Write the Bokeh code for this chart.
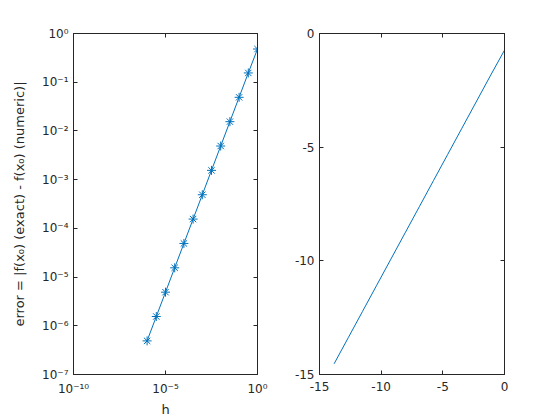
import numpy as np
from bokeh.plotting import figure
from bokeh.layouts import row
from bokeh.models import (Range1d, FixedTicker, CustomJSTickFormatter, LogAxis, LinearAxis)
from bokeh.embed import file_html
from bokeh.resources import INLINE

# data
h = [1.0, 0.316, 0.1, 0.0316, 0.01, 0.00316, 1e-3, 3.16e-4, 1e-4, 3.16e-5, 1e-5, 3.16e-6, 1e-6]
err = [0.48, 0.155, 0.049, 0.0155, 0.0049, 0.00155, 4.9e-4, 1.55e-4, 4.9e-5, 1.55e-5, 4.9e-6, 1.55e-6, 4.9e-7]
left_xticks = [1e-10, 1e-5, 1.0]
left_yticks = [1e-7, 1e-6, 1e-5, 1e-4, 1e-3, 1e-2, 1e-1, 1.0]
right_ticks = [-15, -10, -5, 0]
xlabel = "h"
ylabel = "error = |f(x\u2080) (exact) - f(x\u2080) (numeric)|"

log_h = np.log(np.array(h))
log_err = np.log(np.array(err))

BLUE = "#0072BD"
AX = "#262626"
FONT = "DejaVu Sans"

sup_fmt = CustomJSTickFormatter(code="""
const sup = {'0':'\u2070','1':'\u00b9','2':'\u00b2','3':'\u00b3','4':'\u2074','5':'\u2075','6':'\u2076','7':'\u2077','8':'\u2078','9':'\u2079','-':'\u207b'};
const e = Math.round(Math.log10(tick));
return '10' + String(e).split('').map(c => sup[c]).join('');
""")
plain_fmt = CustomJSTickFormatter(code="return String(Math.round(tick));")
blank_fmt = CustomJSTickFormatter(code="return '';")


def style_axis(ax, show_labels=True):
    ax.axis_line_color = AX
    ax.axis_line_width = 1
    ax.major_tick_line_color = AX
    ax.major_tick_in = 4
    ax.major_tick_out = 0
    ax.minor_tick_in = 0
    ax.minor_tick_out = 0
    ax.major_label_text_font = FONT
    ax.major_label_text_font_size = "12px"
    ax.major_label_text_color = AX
    ax.axis_label_text_font = FONT
    ax.axis_label_text_font_size = "13px"
    ax.axis_label_text_font_style = "normal"
    ax.axis_label_text_color = AX
    if show_labels:
        ax.major_label_standoff = 7
    else:
        ax.major_label_standoff = 0


# ---- left: log-log plot ----
p1 = figure(width=273, height=419, x_axis_type="log", y_axis_type="log",
            x_range=Range1d(1e-10, 1.0), y_range=Range1d(1e-7, 1.0),
            output_backend="svg", toolbar_location=None,
            min_border_left=73, min_border_right=16, min_border_top=33, min_border_bottom=44)
p1.grid.visible = False
p1.outline_line_color = AX
p1.background_fill_color = "white"

p1.xaxis.ticker = FixedTicker(ticks=left_xticks, minor_ticks=[])
p1.yaxis.ticker = FixedTicker(ticks=left_yticks, minor_ticks=[])
p1.xaxis.formatter = sup_fmt
p1.yaxis.formatter = sup_fmt
p1.xaxis.axis_label = xlabel
p1.yaxis.axis_label = ylabel
for ax in p1.xaxis + p1.yaxis:
    style_axis(ax)
p1.yaxis.major_label_standoff = 5
p1.xaxis.axis_label_standoff = 3
p1.yaxis.axis_label_standoff = 12

ra = LogAxis(ticker=FixedTicker(ticks=left_yticks, minor_ticks=[]), formatter=blank_fmt)
style_axis(ra, False)
p1.add_layout(ra, "right")
ta = LogAxis(ticker=FixedTicker(ticks=left_xticks, minor_ticks=[]), formatter=blank_fmt)
style_axis(ta, False)
p1.add_layout(ta, "above")

p1.line(h, err, line_color=BLUE, line_width=1)
p1.scatter(h, err, marker="asterisk", size=9, line_color=BLUE, line_width=1)

# ---- right: ln-ln plot ----
p2 = figure(width=241, height=419, x_range=Range1d(-15, 0), y_range=Range1d(-15, 0),
            output_backend="svg", toolbar_location=None,
            min_border_left=46, min_border_right=10, min_border_top=33, min_border_bottom=44)
p2.grid.visible = False
p2.outline_line_color = AX
p2.xaxis.ticker = FixedTicker(ticks=right_ticks, minor_ticks=[])
p2.yaxis.ticker = FixedTicker(ticks=right_ticks, minor_ticks=[])
p2.xaxis.formatter = plain_fmt
p2.yaxis.formatter = plain_fmt
for ax in p2.xaxis + p2.yaxis:
    style_axis(ax)
p2.yaxis.major_label_standoff = 5

ra2 = LinearAxis(ticker=FixedTicker(ticks=right_ticks, minor_ticks=[]), formatter=blank_fmt)
style_axis(ra2, False)
p2.add_layout(ra2, "right")
ta2 = LinearAxis(ticker=FixedTicker(ticks=right_ticks, minor_ticks=[]), formatter=blank_fmt)
style_axis(ta2, False)
p2.add_layout(ta2, "above")

p2.line(log_h, log_err, line_color=BLUE, line_width=1)

layout = row(p1, p2)
open("out.html", "w").write(file_html(layout, INLINE))
